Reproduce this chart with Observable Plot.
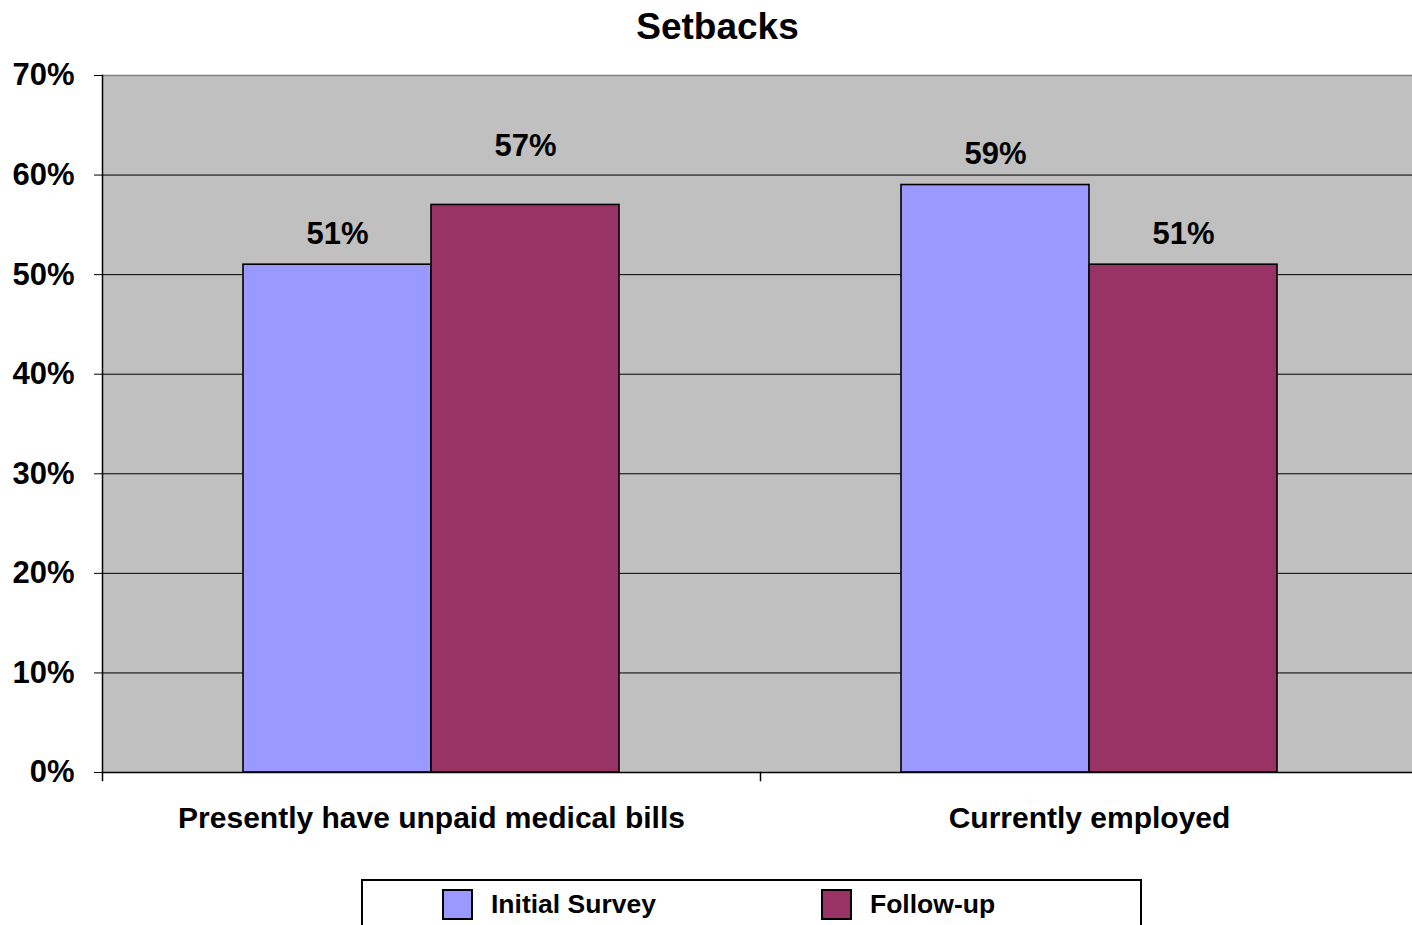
<!DOCTYPE html>
<html>
<head>
<meta charset="utf-8">
<script src="https://cdn.jsdelivr.net/npm/d3@7"></script>
<script src="https://cdn.jsdelivr.net/npm/@observablehq/plot@0.6"></script>
<style>
  html, body { margin: 0; padding: 0; background: #fff; overflow: hidden; }
  #wrap { position: relative; width: 1412px; height: 925px; overflow: hidden;
          font-family: "Liberation Sans", Arial, Helvetica, sans-serif; font-weight: bold; color: #000; }
  #title { position: absolute; top: 9px; left: 0; width: 1435px; text-align: center;
           font-size: 37px; line-height: 36px; }
  #chart { position: absolute; top: 50px; left: 0; width: 1418px; }
  #chart svg { max-width: none; }
  #legend { position: absolute; left: 361px; top: 879px; width: 777px; height: 60px;
            border: 2px solid #000; background: #fff; }
  .item { position: absolute; top: 8px; height: 30px; display: flex; align-items: center;
          font-size: 26.5px; white-space: nowrap; }
  .swatch { width: 27px; height: 27px; border: 2px solid #000; margin-right: 18px; box-sizing: content-box; }
</style>
</head>
<body>
<div id="wrap">
  <div id="title">Setbacks</div>
  <div id="chart"></div>
  <div id="legend"></div>
</div>
<script>
// Survey questions (one group of bars each)
const categories = ["Presently have unpaid medical bills", "Currently employed"];
// Survey waves
const series = ["Initial Survey", "Follow-up"];
const colors = ["#9999ff", "#993366"];
// Share answering "yes", per wave, per question
const initialSurvey = [0.51, 0.59];
const followUp = [0.57, 0.51];
// Y axis tick values
const yTicks = [0, 0.1, 0.2, 0.3, 0.4, 0.5, 0.6, 0.7];

const data = categories.flatMap((c, i) => [
  {category: c, series: series[0], value: initialSurvey[i]},
  {category: c, series: series[1], value: followUp[i]}
]);

const pct = d => Math.round(d * 100) + "%";

// A label sitting on a gridline is lifted above it
const onGrid = d => yTicks.some(t => Math.abs(d.value + 0.031 - t) < 0.015);

const width = 1418, height = 830, marginTop = 25, marginBottom = 108;
const innerH = height - marginTop - marginBottom;

const chart = Plot.plot({
  width, height,
  marginTop, marginBottom, marginLeft: 101, marginRight: 0,
  style: {fontFamily: '"Liberation Sans", Arial, sans-serif', fontWeight: "bold", color: "#000", background: "transparent", maxWidth: "none"},
  fx: {domain: categories, padding: 0, axis: null},
  x: {domain: series, paddingInner: 0, paddingOuter: 0.747, axis: null},
  y: {domain: [0, 0.7], axis: null},
  color: {domain: series, range: colors},
  marks: [
    Plot.frame({fill: "#c0c0c0", stroke: "#c0c0c0", strokeWidth: 1}),
    Plot.ruleY(yTicks.filter(t => t > 0 && t < 0.7), {stroke: "#000", strokeWidth: 1}),
    Plot.ruleY([0.7], {stroke: "#808080", strokeWidth: 1.5}),
    Plot.barY(data, {fx: "category", x: "series", y: "value", fill: "series", stroke: "#000", strokeWidth: 1.6}),
    Plot.ruleY([0], {stroke: "#000", strokeWidth: 1.5}),
    // left axis line
    Plot.frame({anchor: "left", stroke: "#000", strokeWidth: 1.5, facetAnchor: "left"}),
    // category boundary ticks under the baseline
    Plot.frame({anchor: "left", stroke: "#000", strokeWidth: 1.5, insetTop: innerH, insetBottom: -8}),
    Plot.axisY({ticks: yTicks, tickFormat: pct, tickSize: 8, tickPadding: 20,
                fontSize: 31, fontWeight: "bold", stroke: "#000", fill: "#000", label: null}),
    Plot.text(data.filter(d => !onGrid(d)), {fx: "category", x: "series", y: "value", text: d => pct(d.value),
                dy: -31, fontSize: 31, fontWeight: "bold", fill: "#000"}),
    Plot.text(data.filter(onGrid), {fx: "category", x: "series", y: "value", text: d => pct(d.value),
                dy: -59, fontSize: 31, fontWeight: "bold", fill: "#000"}),
    Plot.text(categories, {fx: d => d, text: d => d, frameAnchor: "bottom", lineAnchor: "middle", dy: 46,
                fontSize: 30, fontWeight: "bold", fill: "#000"})
  ]
});
document.getElementById("chart").appendChild(chart);

// Legend below the plot
const legend = document.getElementById("legend");
const itemLeft = [79, 458];
series.forEach((s, i) => {
  const item = document.createElement("div");
  item.className = "item";
  item.style.left = itemLeft[i] + "px";
  const sw = document.createElement("div");
  sw.className = "swatch";
  sw.style.background = colors[i];
  const label = document.createElement("span");
  label.textContent = s;
  item.appendChild(sw);
  item.appendChild(label);
  legend.appendChild(item);
});
</script>
</body>
</html>
